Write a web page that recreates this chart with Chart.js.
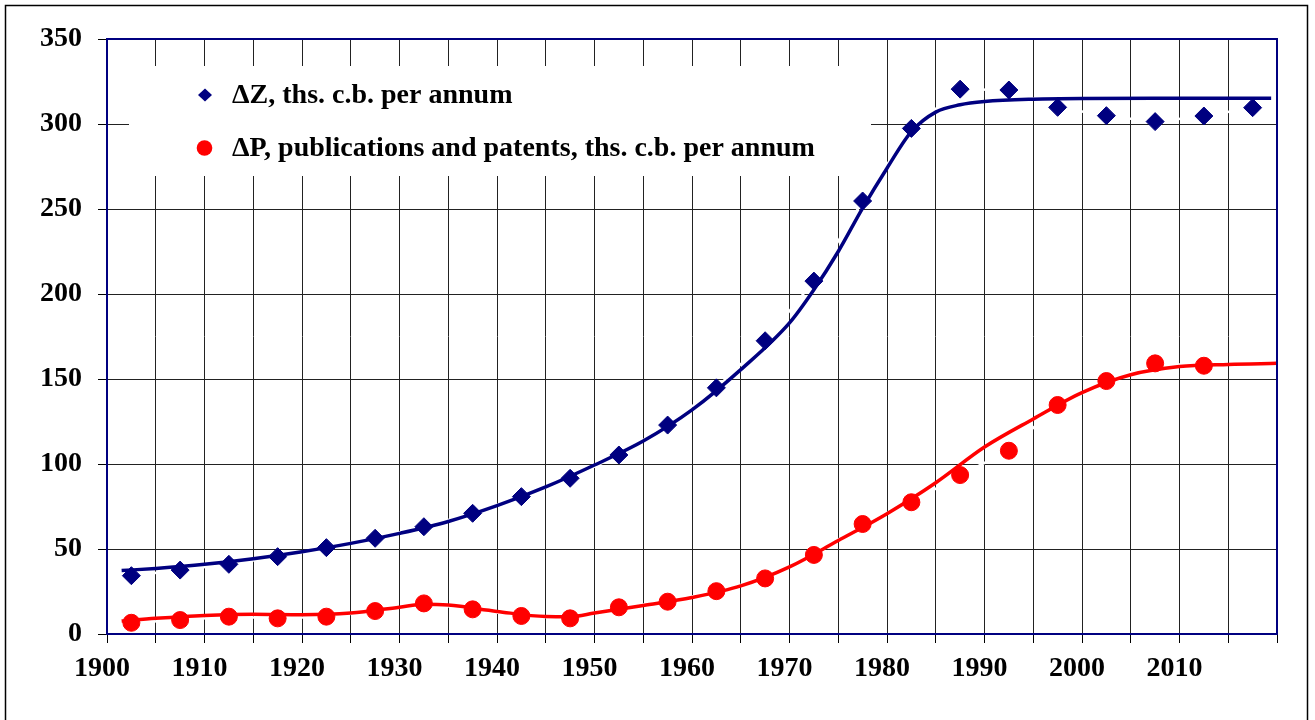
<!DOCTYPE html>
<html><head><meta charset="utf-8">
<script src="https://cdn.jsdelivr.net/npm/chart.js@4.4.1/dist/chart.umd.min.js"></script>
<style>html,body{margin:0;padding:0;background:#fff;}#wrap{width:1315px;height:720px;position:relative;}</style>
</head><body><div id="wrap"><canvas id="c" width="1315" height="720"></canvas></div>
<script>
// ---- data ----
const years = [1902.5,1907.5,1912.5,1917.5,1922.5,1927.5,1932.5,1937.5,1942.5,1947.5,1952.5,1957.5,1962.5,1967.5,1972.5,1977.5,1982.5,1987.5,1992.5,1997.5,2002.5,2007.5,2012.5,2017.5];
const dzValues = [34.3,37.6,41.0,45.5,50.8,56.3,63.1,71.0,80.8,91.6,105.3,122.9,144.8,172.5,207.6,254.7,297.4,320.5,320.0,309.8,304.9,301.4,304.7,309.6];
const dpValues = [6.6,8.2,10.2,9.2,10.2,13.5,18.0,14.5,10.6,9.2,15.7,19.0,25.2,32.7,46.5,64.7,77.5,93.5,107.8,134.7,148.8,159.2,157.8];
const fitYearsZ = [1901.5,1905,1910,1915,1920,1925,1930,1935,1940,1945,1950,1955,1960,1965,1970,1972.5,1975,1977.5,1980,1982.5,1985,1987.5,1990,1995,2000,2010,2019.4];
const fitZ = [37.3,38.6,41.0,44.3,48.4,53.3,59.2,66.2,75.5,86.5,99.4,113.5,131.8,155.5,183.0,202.5,225.0,250.5,274.0,295.5,307.0,311.3,313.2,314.6,315.0,315.1,315.2];
const fitYearsP = [1901.5,1905,1910,1915,1920,1925,1930,1932.5,1935,1940,1945,1947.5,1950,1955,1960,1965,1970,1975,1980,1985,1990,1995,2000,2005,2010,2015,2020];
const fitP = [7.6,9.2,10.9,11.6,11.3,12.3,15.8,17.5,17.0,13.3,10.3,10.2,12.3,16.8,21.5,28.3,39.5,55.0,70.8,89.0,110.0,126.5,142.0,152.5,157.3,158.6,159.2];
const xRange = [1900, 2020];
const xStep = 5;
const xLabelStep = 10;
const yRange = [0, 350];
const yStep = 50;
const legendLabels = ['\u0394Z, ths. c.b. per annum', '\u0394P, publications and patents, ths. c.b. per annum'];

const NAVY = '#000080', RED = '#ff0000';
const FONT = '"Liberation Serif","Times New Roman",serif';
const pts = (xs, ys) => ys.map((v, i) => ({x: xs[i], y: v}));

const whiteBox = {
  id: 'whiteBox',
  beforeDatasetsDraw(chart) {
    const ctx = chart.ctx;
    ctx.save();
    ctx.fillStyle = '#fff';
    ctx.fillRect(129, 66, 742, 110);
    ctx.restore();
  }
};
const frames = {
  id: 'frames',
  afterDraw(chart) {
    const ctx = chart.ctx, a = chart.chartArea;
    ctx.save();
    ctx.strokeStyle = NAVY; ctx.lineWidth = 2;
    ctx.strokeRect(a.left, a.top, a.right - a.left, a.bottom - a.top);
    ctx.strokeStyle = '#000'; ctx.lineWidth = 1.5;
    ctx.strokeRect(5.5, 5.5, 1302, 730);
    // legend
    const rows = [{y: 95, type: 'd'}, {y: 148, type: 'c'}];
    ctx.font = 'bold 28px ' + FONT;
    ctx.textBaseline = 'middle';
    ctx.fillStyle = '#000';
    rows.forEach((r, i) => {
      ctx.save();
      if (r.type === 'd') {
        ctx.fillStyle = NAVY;
        ctx.beginPath();
        ctx.moveTo(205, r.y - 6.5); ctx.lineTo(212, r.y); ctx.lineTo(205, r.y + 6.5); ctx.lineTo(198, r.y);
        ctx.closePath(); ctx.fill();
      } else {
        ctx.fillStyle = RED;
        ctx.beginPath(); ctx.arc(204.5, r.y, 7.8, 0, Math.PI * 2); ctx.fill();
      }
      ctx.restore();
      ctx.fillText(legendLabels[i], 232, r.y + 1);
    });
    ctx.restore();
  }
};

new Chart(document.getElementById('c'), {
  type: 'scatter',
  data: {
    datasets: [
      {label: 'dz', data: pts(years, dzValues), showLine: true, borderColor: '#fff', borderWidth: 2.5,
       pointStyle: 'rectRot', pointRadius: 9, pointBackgroundColor: NAVY, pointBorderColor: NAVY, pointBorderWidth: 1, order: 2},
      {label: 'dp', data: pts(years, dpValues), showLine: true, borderColor: '#fff', borderWidth: 2.5,
       pointStyle: 'circle', pointRadius: 8.5, pointBackgroundColor: RED, pointBorderColor: RED, pointBorderWidth: 1, order: 2},
      {label: 'fitZ', data: pts(fitYearsZ, fitZ), showLine: true, borderColor: NAVY, borderWidth: 3.5,
       pointRadius: 0, cubicInterpolationMode: 'monotone', order: 1},
      {label: 'fitP', data: pts(fitYearsP, fitP), showLine: true, borderColor: RED, borderWidth: 3.5,
       pointRadius: 0, cubicInterpolationMode: 'monotone', order: 1}
    ]
  },
  options: {
    responsive: false, animation: false, devicePixelRatio: 1,
    layout: {padding: {left: 0, top: 39, right: 38, bottom: 0}},
    plugins: {legend: {display: false}, tooltip: {enabled: false}},
    scales: {
      x: {
        type: 'linear', min: xRange[0], max: xRange[1],
        afterFit(s) { s.height = 86; },
        border: {display: false},
        grid: {color: '#222', lineWidth: 1, tickLength: 9, tickColor: '#000'},
        ticks: {stepSize: xStep, autoSkip: false, maxRotation: 0, padding: 9, labelOffset: -5,
          color: '#000', font: {family: FONT, size: 28, weight: 'bold'},
          callback: v => (v % xLabelStep === 0 && v < xRange[1]) ? String(v) : ''}
      },
      y: {
        min: yRange[0], max: yRange[1],
        afterFit(s) { s.width = 107; },
        border: {display: false},
        grid: {color: '#222', lineWidth: 1, tickLength: 9, tickColor: '#000'},
        ticks: {stepSize: yStep, padding: 16, color: '#000', font: {family: FONT, size: 28, weight: 'bold'}}
      }
    }
  },
  plugins: [whiteBox, frames]
});
</script></body></html>
